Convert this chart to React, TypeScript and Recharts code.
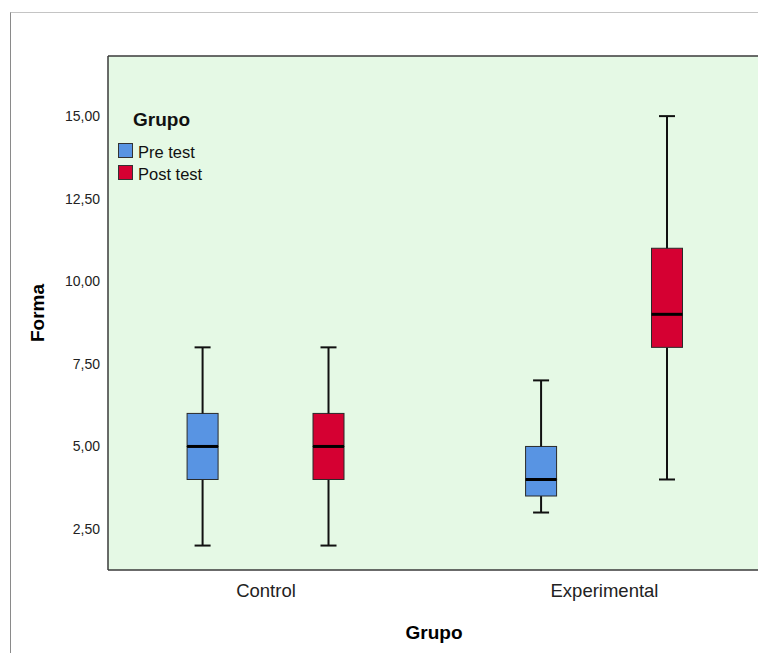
import React from "react";
import {
  ComposedChart,
  Bar,
  XAxis,
  YAxis,
  CartesianGrid,
  Legend,
  ReferenceLine,
} from "recharts";

// box plot values, one entry per box (Control pre, Control post, Exp pre, Exp post)
const categories = ["Control", "Experimental"];
const seriesNames = ["Pre test", "Post test"];
const seriesColors = ["#5894E3", "#D50032"];
const boxCategory = [0, 0, 1, 1];
const boxSeries = [0, 1, 0, 1];
const minValues = [2, 2, 3, 4];
const q1Values = [4, 4, 3.5, 8];
const medianValues = [5, 5, 4, 9];
const q3Values = [6, 6, 5, 11];
const maxValues = [8, 8, 7, 15];
const yTicks = [2.5, 5, 7.5, 10, 12.5, 15];

const SIDE_OFFSET = 0.186;
const X_DOMAIN = [-0.4668, 1.4594];
const Y_DOMAIN = [1.26, 16.82];
const BORDER = "#3a3a3a";
const FONT = "'Liberation Sans', Arial, sans-serif";

const rows = boxCategory.map((c, i) => ({
  x: c + (boxSeries[i] === 0 ? -SIDE_OFFSET : SIDE_OFFSET),
  base: minValues[i],
  lowWhisker: q1Values[i] - minValues[i],
  lowBox: medianValues[i] - q1Values[i],
  highBox: q3Values[i] - medianValues[i],
  highWhisker: maxValues[i] - q3Values[i],
  color: seriesColors[boxSeries[i]],
}));

const LowWhisker = (p: any) => {
  const cx = p.x + p.width / 2;
  const bottom = p.y + p.height;
  return (
    <g stroke="#111" strokeWidth={2}>
      <line x1={cx} y1={p.y} x2={cx} y2={bottom} />
      <line x1={cx - 8} y1={bottom} x2={cx + 8} y2={bottom} />
    </g>
  );
};

const HighWhisker = (p: any) => {
  const cx = p.x + p.width / 2;
  return (
    <g stroke="#111" strokeWidth={2}>
      <line x1={cx} y1={p.y} x2={cx} y2={p.y + p.height} />
      <line x1={cx - 8} y1={p.y} x2={cx + 8} y2={p.y} />
    </g>
  );
};

const BoxPart = (p: any) => (
  <rect
    x={p.x}
    y={p.y}
    width={p.width}
    height={p.height}
    fill={p.payload.color}
    stroke="#2a2a2a"
    strokeWidth={1}
  />
);

const UpperBox = (p: any) => (
  <g>
    <BoxPart {...p} />
    <line
      x1={p.x}
      x2={p.x + p.width}
      y1={p.y + p.height}
      y2={p.y + p.height}
      stroke="#000"
      strokeWidth={3}
    />
  </g>
);

const LegendBox = () => (
  <div style={{ fontFamily: FONT, color: "#111" }}>
    <div
      style={{
        fontWeight: "bold",
        fontSize: 19,
        lineHeight: "22px",
        marginLeft: 15,
        marginBottom: 12,
      }}
    >
      Grupo
    </div>
    {seriesNames.map((name, i) => (
      <div
        key={name}
        style={{ display: "flex", alignItems: "center", height: 15, marginBottom: 7 }}
      >
        <span
          style={{
            width: 13,
            height: 13,
            background: seriesColors[i],
            border: "1px solid #333",
            display: "inline-block",
          }}
        />
        <span style={{ fontSize: 16.5, marginLeft: 5, lineHeight: "15px", marginTop: 3 }}>
          {name}
        </span>
      </div>
    ))}
  </div>
);

export default function App() {
  return (
    <div
      style={{
        position: "absolute",
        left: 0,
        top: 0,
        width: 758,
        height: 653,
        overflow: "hidden",
        background: "#fff",
      }}
    >
      <div
        style={{
          position: "absolute",
          left: 10,
          top: 12,
          width: 800,
          height: 700,
          borderTop: "1px solid #c4c4c4",
          borderLeft: "1px solid #8a8a8a",
        }}
      />
      <ComposedChart
        width={760}
        height={653}
        data={rows}
        margin={{ top: 56, right: 0, bottom: 0, left: 0 }}
        style={{ position: "absolute", left: 0, top: 0 }}
      >
        <CartesianGrid fill="#E5F9E5" horizontal={false} vertical={false} />
        <XAxis
          dataKey="x"
          type="number"
          domain={X_DOMAIN}
          allowDataOverflow
          ticks={[0, 1]}
          tickFormatter={(v) => categories[v]}
          tickLine={false}
          tickMargin={8}
          height={83}
          axisLine={{ stroke: BORDER, strokeWidth: 1.5 }}
          tick={{ fill: "#222", fontSize: 18.5, fontFamily: FONT }}
          label={{
            value: "Grupo",
            position: "insideBottom",
            offset: 14,
            fill: "#000",
            fontSize: 19,
            fontWeight: "bold",
            fontFamily: FONT,
          }}
        />
        <YAxis
          type="number"
          domain={Y_DOMAIN}
          allowDataOverflow
          ticks={yTicks}
          tickFormatter={(v) => v.toFixed(2).replace(".", ",")}
          tickLine={false}
          width={108}
          axisLine={{ stroke: BORDER, strokeWidth: 1.5 }}
          tick={{ fill: "#222", fontSize: 14, fontFamily: FONT }}
          label={{
            value: "Forma",
            angle: -90,
            position: "insideLeft",
            offset: 37,
            fill: "#000",
            fontSize: 19,
            fontWeight: "bold",
            fontFamily: FONT,
            style: { textAnchor: "middle" },
          }}
        />
        <ReferenceLine y={Y_DOMAIN[1]} stroke={BORDER} strokeWidth={1.5} />
        <Legend
          layout="horizontal"
          verticalAlign="middle"
          align="center"
          content={<LegendBox />}
          wrapperStyle={{ left: 118, top: 109, width: 120, height: 80 }}
        />
        <Bar dataKey="base" stackId="box" barSize={31} fill="transparent" isAnimationActive={false} legendType="none" />
        <Bar dataKey="lowWhisker" stackId="box" barSize={31} shape={LowWhisker} isAnimationActive={false} legendType="none" />
        <Bar dataKey="lowBox" stackId="box" barSize={31} shape={BoxPart} isAnimationActive={false} legendType="none" />
        <Bar dataKey="highBox" stackId="box" barSize={31} shape={UpperBox} isAnimationActive={false} legendType="none" />
        <Bar dataKey="highWhisker" stackId="box" barSize={31} shape={HighWhisker} isAnimationActive={false} legendType="none" />
      </ComposedChart>
    </div>
  );
}
